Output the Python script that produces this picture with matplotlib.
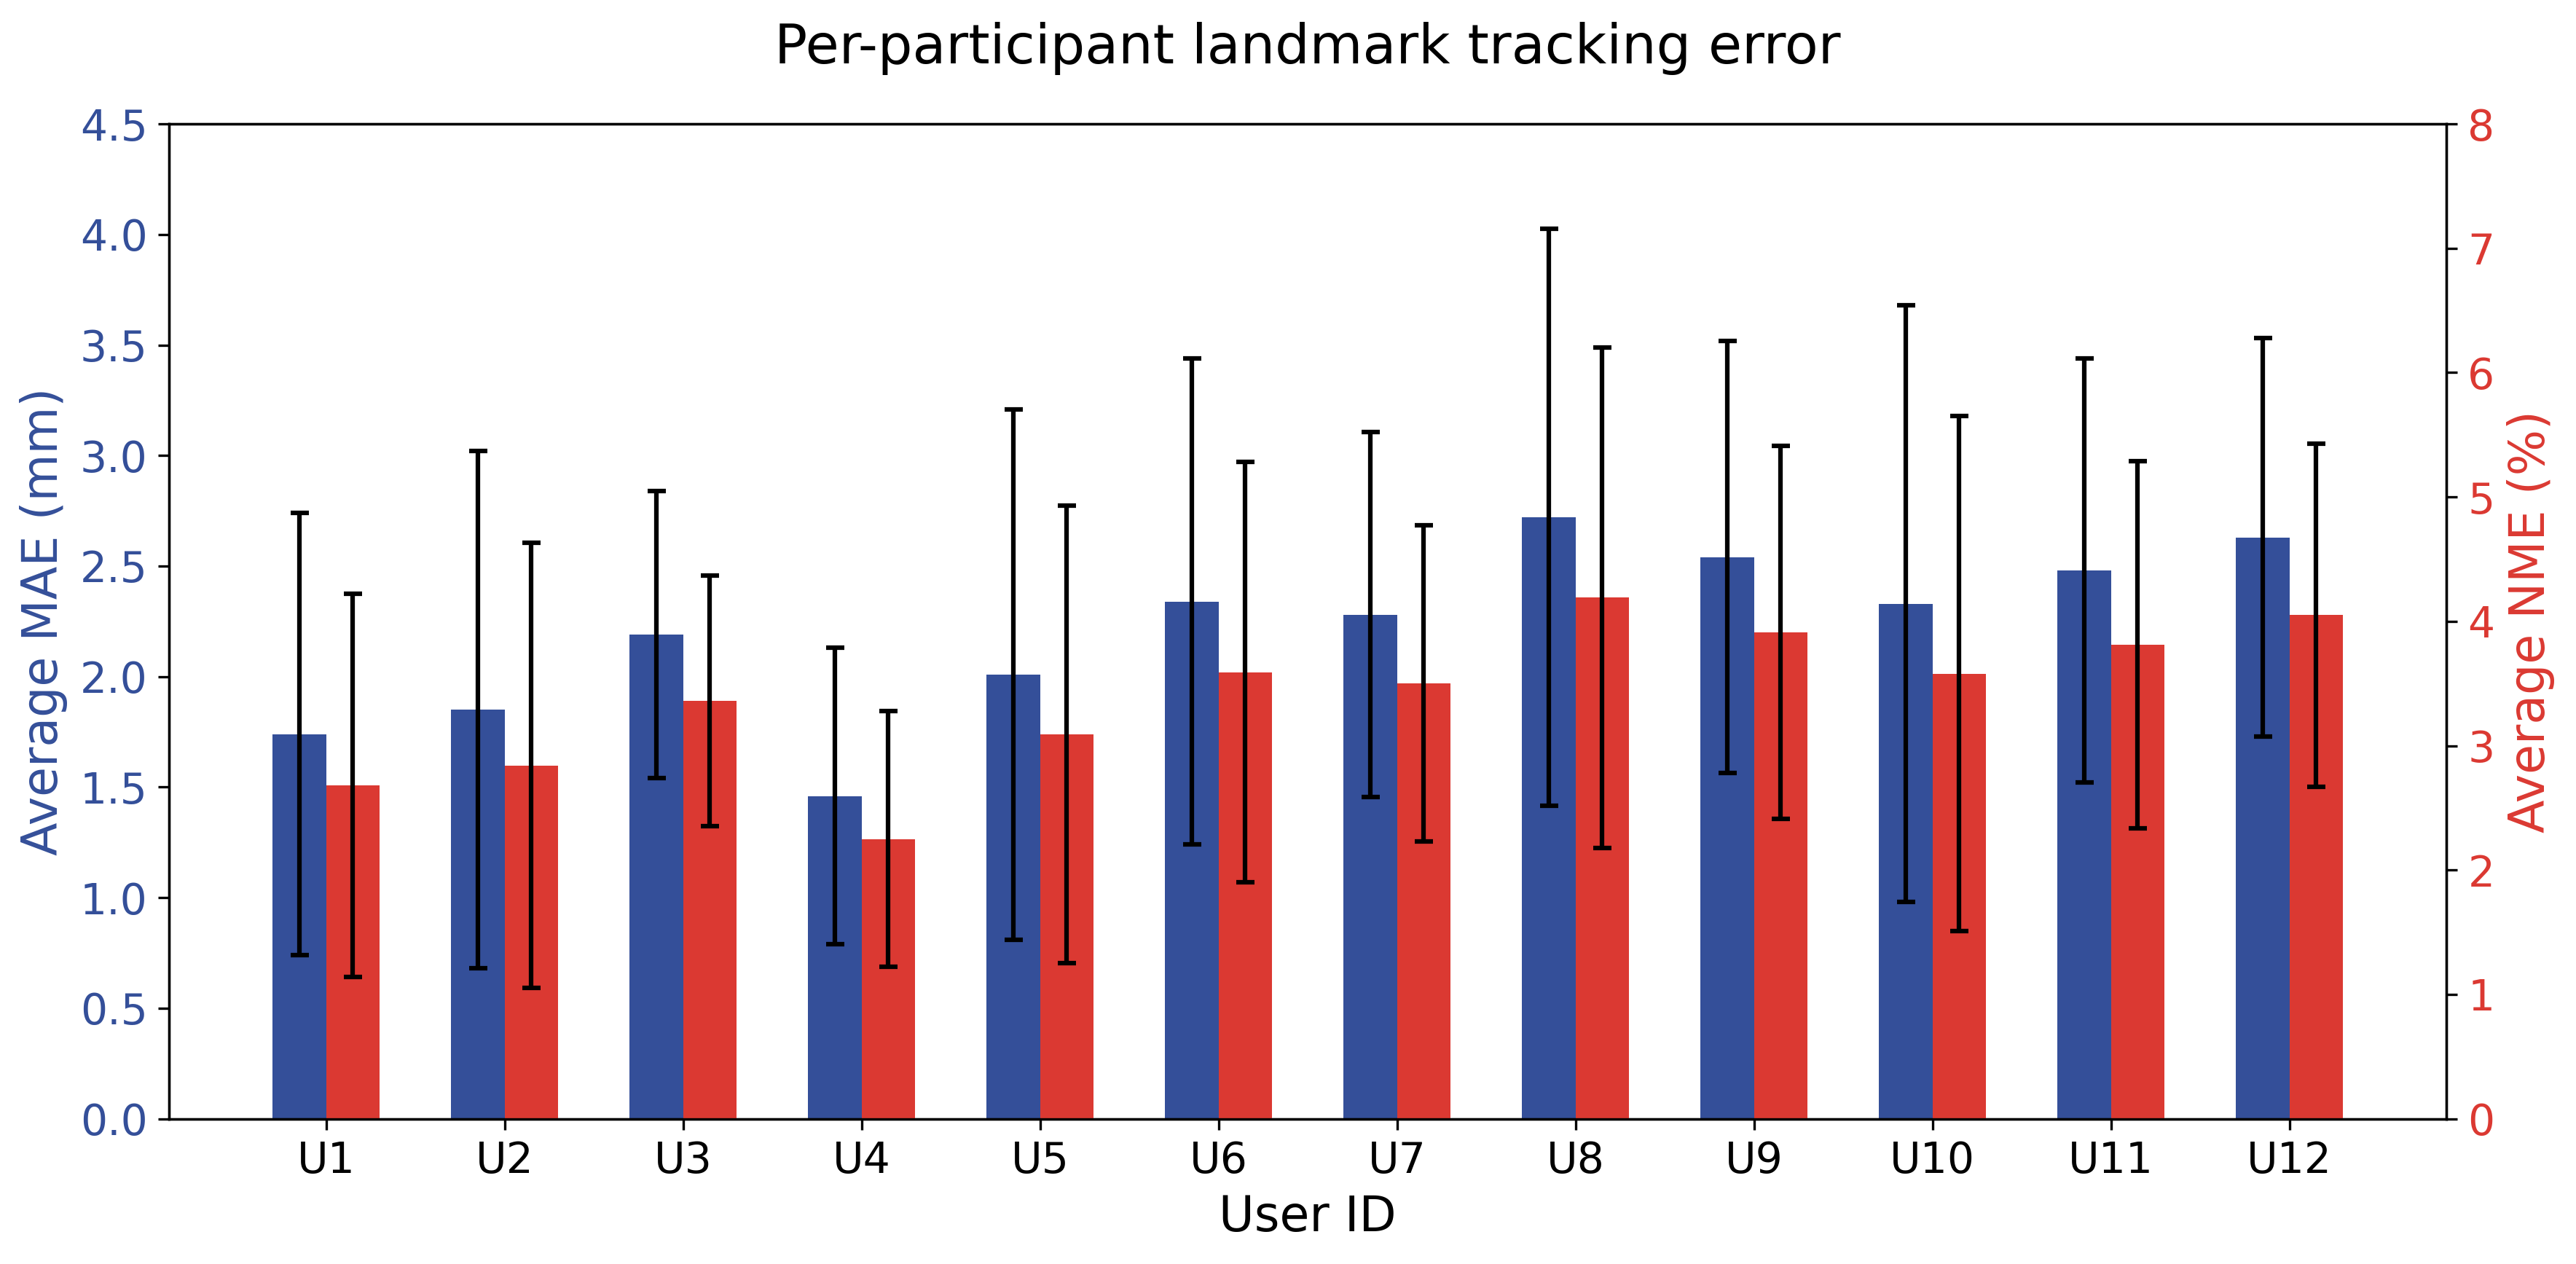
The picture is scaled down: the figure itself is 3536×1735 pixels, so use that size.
import numpy as np
import matplotlib
matplotlib.use("Agg")
import matplotlib.pyplot as plt

# values
users = ["U1", "U2", "U3", "U4", "U5", "U6", "U7", "U8", "U9", "U10", "U11", "U12"]
mae_mean = [1.74, 1.85, 2.19, 1.46, 2.01, 2.34, 2.28, 2.72, 2.54, 2.33, 2.48, 2.63]
mae_std = [1.00, 1.17, 0.65, 0.67, 1.20, 1.10, 0.825, 1.305, 0.977, 1.35, 0.96, 0.90]
nme_mean = [2.68, 2.84, 3.36, 2.25, 3.09, 3.59, 3.50, 4.19, 3.91, 3.58, 3.81, 4.05]
nme_std = [1.54, 1.79, 1.01, 1.03, 1.84, 1.69, 1.27, 2.01, 1.50, 2.07, 1.475, 1.38]

blue = "#344F99"
red = "#DB3932"
width = 0.3

x = np.arange(len(users))

fig, ax = plt.subplots(figsize=(3536 / 300, 1735 / 300), dpi=300)
fig.subplots_adjust(left=0.0656, right=0.9497, top=0.902, bottom=0.1149)
ax2 = ax.twinx()

err_style = dict(ecolor="black", elinewidth=1.5, capsize=3, capthick=1.5)
ax.bar(x - width / 2, mae_mean, width, yerr=mae_std, color=blue, error_kw=err_style)
ax2.bar(x + width / 2, nme_mean, width, yerr=nme_std, color=red, error_kw=err_style)

ax.set_ylim(0, 4.5)
ax.set_yticks(np.arange(0, 4.51, 0.5))
ax2.set_ylim(0, 8)
ax2.set_yticks(np.arange(0, 9, 1))

ax.set_xticks(x)
ax.set_xticklabels(users, fontsize=14)
ax.set_xlabel("User ID", fontsize=16)

ax.set_ylabel("Average MAE (mm)", fontsize=16, color=blue)
ax.tick_params(axis="y", labelsize=14, labelcolor=blue)
ax2.set_ylabel("Average NME (%)", fontsize=16, color=red)
ax2.tick_params(axis="y", labelsize=14, labelcolor=red)

ax.set_title("Per-participant landmark tracking error", fontsize=18, pad=20)

fig.savefig("out.png", dpi=300)
